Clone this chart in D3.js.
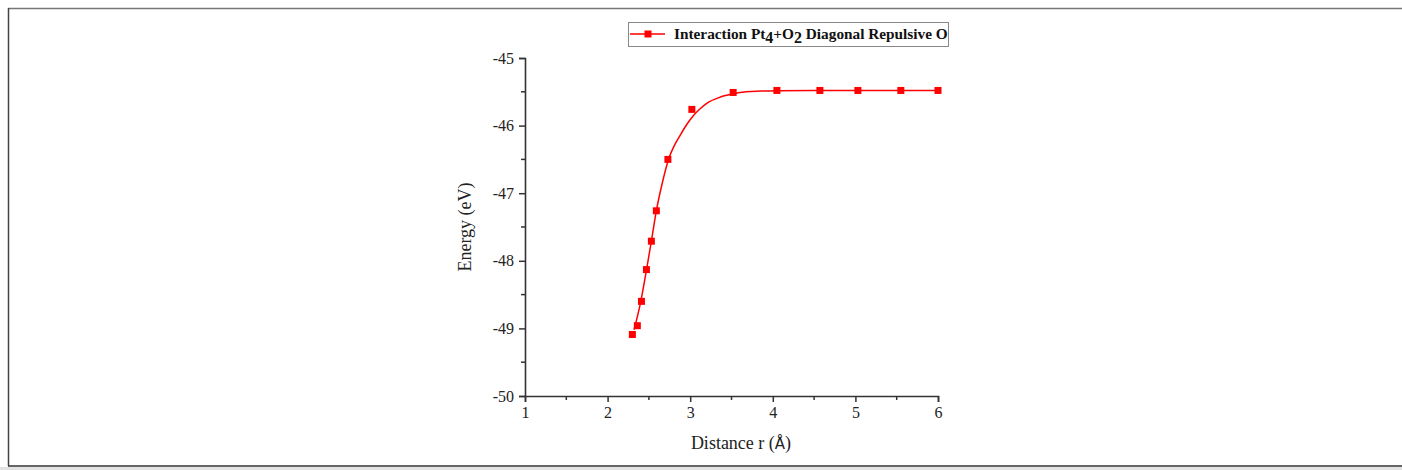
<!DOCTYPE html>
<html>
<head>
<meta charset="utf-8">
<script src="https://cdn.jsdelivr.net/npm/d3@7"></script>
<style>
  body { margin: 0; background: #fff; }
  svg { display: block; }
</style>
</head>
<body>
<div id="chart"></div>
<script>
// measured points (distance in Å, energy in eV)
const distance = [2.30, 2.36, 2.41, 2.47, 2.53, 2.59, 2.73, 3.02, 3.52, 4.05, 4.57, 5.03, 5.55, 6.00];
const energy = [-49.09, -48.96, -48.60, -48.13, -47.71, -47.26, -46.50, -45.76, -45.51, -45.48, -45.48, -45.48, -45.48, -45.48];

// fitted curve
const fitX = [2.32, 2.40, 2.47, 2.53, 2.59, 2.66, 2.74, 2.81, 2.88, 2.96, 3.04, 3.12, 3.20, 3.36, 3.52, 3.68, 3.85, 4.05, 4.50, 5.00, 6.00];
const fitY = [-49.02, -48.61, -48.14, -47.71, -47.26, -46.86, -46.49, -46.29, -46.14, -45.98, -45.85, -45.75, -45.67, -45.58, -45.53, -45.50, -45.49, -45.483, -45.48, -45.48, -45.48];

const xTicks = [1, 2, 3, 4, 5, 6];
const yTicks = [-45, -46, -47, -48, -49, -50];

const W = 1402, H = 470;
const plot = { left: 525, right: 938, top: 58, bottom: 396 };

const svg = d3.select("#chart").append("svg")
    .attr("width", W).attr("height", H);

// outer frame like the original page
svg.append("rect").attr("x", 0).attr("y", 467).attr("width", W).attr("height", 3).attr("fill", "#e2e2e2");
svg.append("line").attr("x1", 8).attr("x2", W).attr("y1", 8.5).attr("y2", 8.5).attr("stroke", "#777").attr("stroke-width", 1.5);
svg.append("line").attr("x1", 8.5).attr("x2", 8.5).attr("y1", 8).attr("y2", 466).attr("stroke", "#444").attr("stroke-width", 1.5);
svg.append("line").attr("x1", 8).attr("x2", W).attr("y1", 466).attr("y2", 466).attr("stroke", "#333").attr("stroke-width", 1.5);

const x = d3.scaleLinear().domain([1, 6]).range([plot.left, plot.right]);
const y = d3.scaleLinear().domain([-50, -45]).range([plot.bottom, plot.top]);

const serif = "'Liberation Serif', 'Times New Roman', serif";

// minor ticks
const xMinor = d3.range(1.5, 6, 1);
const yMinor = d3.range(-49.5, -45, 1);

const xAxis = svg.append("g")
    .attr("transform", `translate(0,${plot.bottom})`)
    .call(d3.axisBottom(x).tickValues(xTicks).tickSize(6).tickPadding(5).tickFormat(d3.format("d")));
const yAxis = svg.append("g")
    .attr("transform", `translate(${plot.left},0)`)
    .call(d3.axisLeft(y).tickValues(yTicks).tickSize(6).tickPadding(5).tickFormat(d => d));

svg.append("g").selectAll("line").data(xMinor).enter().append("line")
    .attr("x1", d => x(d)).attr("x2", d => x(d))
    .attr("y1", plot.bottom).attr("y2", plot.bottom + 4);
svg.append("g").selectAll("line").data(yMinor).enter().append("line")
    .attr("x1", plot.left - 4).attr("x2", plot.left)
    .attr("y1", d => y(d)).attr("y2", d => y(d));

svg.selectAll("line").filter(function () { return !this.getAttribute("stroke"); })
    .attr("stroke", "#333").attr("stroke-width", 1.5);
[xAxis, yAxis].forEach(a => {
    a.select(".domain").attr("stroke", "#333").attr("stroke-width", 1.6);
    a.selectAll(".tick line").attr("stroke", "#333").attr("stroke-width", 1.5);
    a.selectAll("text").attr("font-family", serif).attr("font-size", 16).attr("fill", "#222");
});

// fitted curve
const line = d3.line().x((d, i) => x(fitX[i])).y(d => y(d)).curve(d3.curveMonotoneX);
svg.append("path").datum(fitY)
    .attr("d", line)
    .attr("fill", "none").attr("stroke", "#ff0000").attr("stroke-width", 1.5);

// markers
svg.append("g").selectAll("rect").data(distance).enter().append("rect")
    .attr("x", (d, i) => x(d) - 3.5)
    .attr("y", (d, i) => y(energy[i]) - 3.5)
    .attr("width", 7).attr("height", 7)
    .attr("fill", "#ff0000");

// axis titles
svg.append("text")
    .attr("transform", `translate(471,${(plot.top + plot.bottom) / 2}) rotate(-90)`)
    .attr("text-anchor", "middle")
    .attr("font-family", serif).attr("font-size", 18).attr("fill", "#222")
    .text("Energy (eV)");

const xt = svg.append("text")
    .attr("x", 741).attr("y", 449)
    .attr("text-anchor", "middle")
    .attr("font-family", serif).attr("font-size", 18).attr("fill", "#222");
xt.append("tspan").text("Distance r (");
xt.append("tspan").attr("font-family", "'DejaVu Sans', sans-serif").attr("font-size", 15).text("Å");
xt.append("tspan").text(")");

// legend
const lg = svg.append("g");
lg.append("rect").attr("x", 628.5).attr("y", 22.5).attr("width", 320).attr("height", 24)
    .attr("fill", "#fff").attr("stroke", "#888").attr("stroke-width", 1);
lg.append("line").attr("x1", 630).attr("x2", 665).attr("y1", 34).attr("y2", 34)
    .attr("stroke", "#ff0000").attr("stroke-width", 1.5);
lg.append("rect").attr("x", 644.5).attr("y", 30.5).attr("width", 7).attr("height", 7).attr("fill", "#ff0000");
const lt = lg.append("text").attr("x", 674).attr("y", 39)
    .attr("font-family", serif).attr("font-size", 15.3).attr("font-weight", "bold").attr("fill", "#111");
lt.append("tspan").text("Interaction Pt");
lt.append("tspan").attr("dy", 4).attr("font-size", 16).text("4");
lt.append("tspan").attr("dy", -4).text("+O");
lt.append("tspan").attr("dy", 4).attr("font-size", 16).text("2");
lt.append("tspan").attr("dy", -4).text(" Diagonal Repulsive O");
</script>
</body>
</html>
